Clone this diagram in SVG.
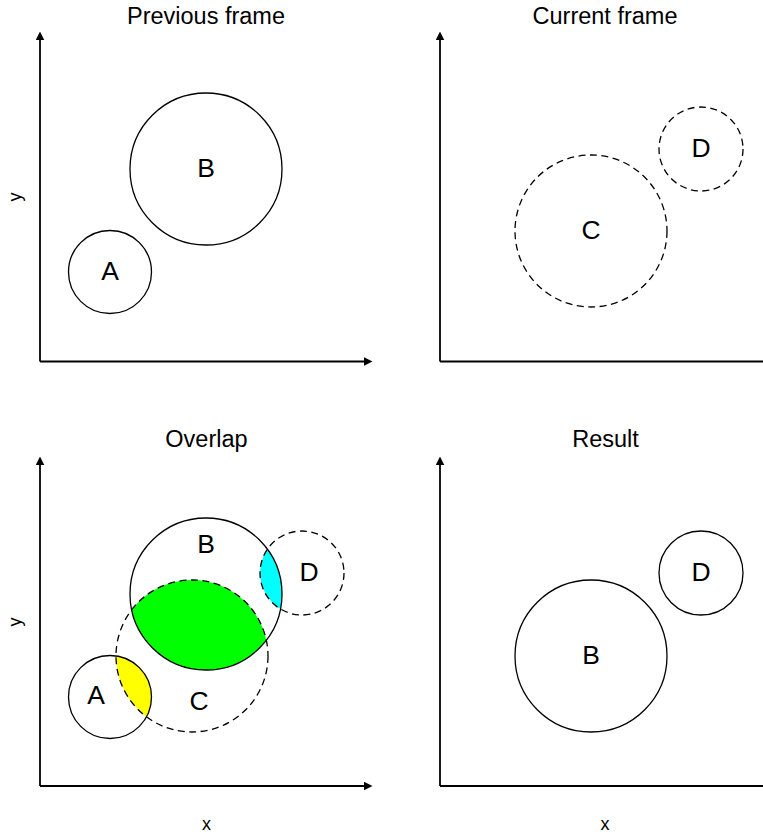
<svg xmlns="http://www.w3.org/2000/svg" width="763" height="836" viewBox="0 0 763 836">
  <style>
    text { font-family: "Liberation Sans", Arial, sans-serif; fill: #000; text-anchor: middle; }
    .title { font-size: 23.5px; }
    .lbl { font-size: 26.5px; }
    .ax { font-size: 18px; }
    .solid { fill: none; stroke: #000; stroke-width: 1.3; }
    .dash { fill: none; stroke: #000; stroke-width: 1.3; stroke-dasharray: 7 4.5; }
    .axis { fill: none; stroke: #000; stroke-width: 1.8; marker-end: url(#arrow); }
  </style>
  <defs>
    <marker id="arrow" viewBox="0 0 10 10" refX="0" refY="5" markerWidth="8.5" markerHeight="9" markerUnits="userSpaceOnUse" orient="auto">
      <path d="M0,0 L10,5 L0,10 Z" fill="#000"/>
    </marker>
    <clipPath id="clipC"><circle cx="192" cy="656" r="76"/></clipPath>
    <clipPath id="clipD"><circle cx="302" cy="573" r="42"/></clipPath>
  </defs>
  <rect width="763" height="836" fill="#fff"/>

  <g id="axes">
    <path class="axis" d="M40,361.5 V40"/>
    <path class="axis" d="M40,361.5 H364"/>
    <path class="axis" d="M440,361.5 V40"/>
    <path class="axis" d="M440,361.5 H764"/>
    <path class="axis" d="M40,786 V465"/>
    <path class="axis" d="M40,786 H364"/>
    <path class="axis" d="M440,786 V465"/>
    <path class="axis" d="M440,786 H764"/>
  </g>

  <g id="titles">
    <text class="title" x="206" y="24">Previous frame</text>
    <text class="title" x="605" y="24">Current frame</text>
    <text class="title" x="206.5" y="447">Overlap</text>
    <text class="title" x="605.5" y="447">Result</text>
    <text class="ax" transform="translate(20.5,197) rotate(-90)">y</text>
    <text class="ax" transform="translate(20.5,622) rotate(-90)">y</text>
    <text class="ax" x="206.5" y="830">x</text>
    <text class="ax" x="605" y="830">x</text>
  </g>

  <!-- Previous frame -->
  <g id="prev-A">
    <circle class="solid" cx="110" cy="272" r="41.5"/>
    <text class="lbl" x="110" y="280">A</text>
  </g>
  <g id="prev-B">
    <circle class="solid" cx="206" cy="169" r="76"/>
    <text class="lbl" x="206" y="177">B</text>
  </g>

  <!-- Current frame -->
  <g id="cur-C">
    <circle class="dash" cx="591" cy="231" r="76"/>
    <text class="lbl" x="591" y="239">C</text>
  </g>
  <g id="cur-D">
    <circle class="dash" cx="701" cy="149" r="42"/>
    <text class="lbl" x="701" y="157">D</text>
  </g>

  <!-- Overlap -->
  <g id="overlap-fills">
    <circle cx="206" cy="594" r="76" fill="#00ff00" clip-path="url(#clipC)"/>
    <circle cx="110" cy="697" r="41.5" fill="#ffff00" clip-path="url(#clipC)"/>
    <circle cx="206" cy="594" r="76" fill="#00ffff" clip-path="url(#clipD)"/>
  </g>
  <g id="ov-A">
    <circle class="solid" cx="110" cy="697" r="41.5"/>
    <text class="lbl" x="96" y="704">A</text>
  </g>
  <g id="ov-B">
    <circle class="solid" cx="206" cy="594" r="76"/>
    <text class="lbl" x="206" y="553">B</text>
  </g>
  <g id="ov-C">
    <circle class="dash" cx="192" cy="656" r="76"/>
    <text class="lbl" x="199" y="710">C</text>
  </g>
  <g id="ov-D">
    <circle class="dash" cx="302" cy="573" r="42"/>
    <text class="lbl" x="309" y="581">D</text>
  </g>

  <!-- Result -->
  <g id="res-B">
    <circle class="solid" cx="591" cy="656" r="76"/>
    <text class="lbl" x="591" y="664">B</text>
  </g>
  <g id="res-D">
    <circle class="solid" cx="701" cy="573" r="42"/>
    <text class="lbl" x="701" y="581">D</text>
  </g>
</svg>
